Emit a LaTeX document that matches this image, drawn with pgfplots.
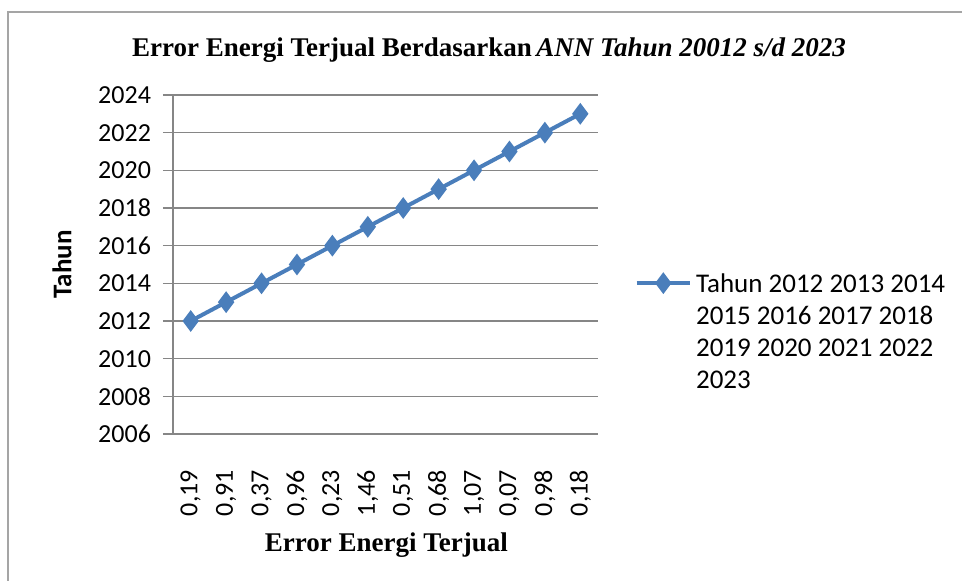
\documentclass[border=0pt]{standalone}
\usepackage{pgfplots}
\pgfplotsset{compat=1.18}
\usepackage{fontspec}
\setmainfont{Liberation Serif}
\newfontfamily\carlito{Carlito}
\definecolor{exblue}{RGB}{74,126,187}
\definecolor{gridc}{RGB}{134,134,134}
\definecolor{framec}{RGB}{165,165,165}
\begin{document}
\begin{tikzpicture}[x=1pt,y=1pt]
\useasboundingbox (0,0) rectangle (481,290.5);
\draw[framec, line width=1pt] (4,0) -- (4,284.5) -- (481,284.5);
\begin{axis}[
  at={(86.5pt,73.5pt)}, anchor=south west,
  scale only axis, width=212.5pt, height=169.5pt,
  xmin=-0.5, xmax=11.5, ymin=2006, ymax=2024,
  ytick={2006,2008,...,2024},
  xtick={0,...,11},
  xticklabels={{0,19},{0,91},{0,37},{0,96},{0,23},{1,46},{0,51},{0,68},{1,07},{0,07},{0,98},{0,18}},
  axis lines=left,
  axis line style={-, draw=gridc, line width=0.6pt},
  ymajorgrids, grid style={draw=gridc, line width=0.6pt},
  tick align=outside, major tick length=5pt,
  ytick style={draw=gridc, line width=0.6pt},
  xtick style={draw=none},
  /pgf/number format/assume math mode=true,
  /pgf/number format/1000 sep={},
  yticklabel style={font=\carlito\fontsize{13}{16}\selectfont},
  yticklabel shift=2.5pt,
  xticklabel style={font=\carlito\fontsize{13}{16}\selectfont, rotate=90, anchor=east},
  xticklabel shift=9.5pt,
  xlabel={Error Energi Terjual},
  xlabel style={font=\bfseries\fontsize{13.5}{16}\selectfont, at={(axis description cs:0.502,-0.3265)}, anchor=center},
  ylabel={Tahun},
  ylabel style={font=\carlito\bfseries\fontsize{13.5}{16}\selectfont, at={(axis description cs:-0.261,0.5)}, anchor=center},
  title={Error Energi Terjual Berdasarkan\,\textit{ANN Tahun 20012 s/d 2023}},
  title style={font=\bfseries\fontsize{13.5}{16}\selectfont, at={(axis description cs:0.7435,1.0973)}, anchor=center},
  legend style={at={(axis description cs:1.071,0.445)}, anchor=west, draw=none, fill=none,
    font=\carlito\fontsize{13.5}{16}\selectfont},
  legend image code/.code={\draw[mark repeat=2,mark phase=2] plot coordinates {(0cm,0cm) (0.47cm,0cm) (0.94cm,0cm)};},
]
\addplot[exblue, line width=2pt, mark=diamond*, mark size=3.8pt, mark options={solid}]
  coordinates {(0,2012)(1,2013)(2,2014)(3,2015)(4,2016)(5,2017)(6,2018)(7,2019)(8,2020)(9,2021)(10,2022)(11,2023)};
\addlegendentry{\begin{tabular}[t]{@{}l@{}}Tahun 2012 2013 2014\\2015 2016 2017 2018\\2019 2020 2021 2022\\2023\end{tabular}}
\end{axis}
\end{tikzpicture}
\end{document}
